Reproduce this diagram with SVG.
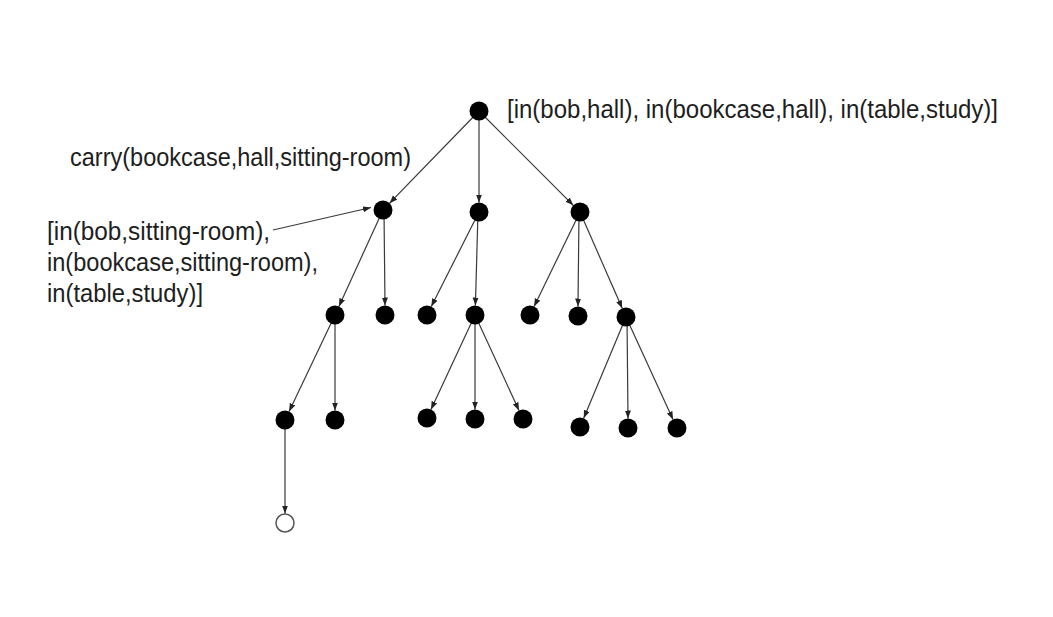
<svg xmlns="http://www.w3.org/2000/svg" width="1053" height="617" viewBox="0 0 1053 617">
<style>
.e{stroke:#3a3a3a;stroke-width:1.2;fill:none;marker-end:url(#ah)}
.n{fill:#000}
.o{fill:#fff;stroke:#555;stroke-width:1.5}
.t{font-family:"Liberation Sans",Arial,sans-serif;font-size:25px;fill:#1e1e1e}
</style>
<defs>
<marker id="ah" markerUnits="userSpaceOnUse" markerWidth="9" markerHeight="7" refX="8" refY="3" orient="auto">
<path d="M0,0 L8,3 L0,6 z" fill="#222"/>
</marker>
</defs>
<rect width="1053" height="617" fill="#fff"/>
<g id="connectors">
<line class="e" x1="479" y1="111" x2="389.6" y2="203.2"/>
<line class="e" x1="479" y1="111" x2="479" y2="202.5"/>
<line class="e" x1="479" y1="111" x2="573.3" y2="205.3"/>
<line class="e" x1="383" y1="210" x2="338.9" y2="306.4"/>
<line class="e" x1="384" y1="210" x2="385" y2="305.5"/>
<line class="e" x1="479" y1="212" x2="431.3" y2="306.5"/>
<line class="e" x1="478" y1="212" x2="475.4" y2="305.5"/>
<line class="e" x1="580" y1="212" x2="534.1" y2="306.5"/>
<line class="e" x1="579" y1="212" x2="578" y2="306.5"/>
<line class="e" x1="580" y1="212" x2="622.2" y2="308.3"/>
<line class="e" x1="335" y1="315" x2="289.1" y2="411.4"/>
<line class="e" x1="335" y1="315" x2="335" y2="410.5"/>
<line class="e" x1="475" y1="315" x2="431" y2="409.4"/>
<line class="e" x1="475" y1="315" x2="475" y2="409.5"/>
<line class="e" x1="475" y1="315" x2="519" y2="410.4"/>
<line class="e" x1="626" y1="317" x2="583.7" y2="418.2"/>
<line class="e" x1="627" y1="317" x2="628" y2="418.5"/>
<line class="e" x1="626" y1="317" x2="673" y2="419.4"/>
<line class="e" x1="285" y1="420" x2="285" y2="513.5"/>
<line class="e" x1="273" y1="230" x2="371" y2="207.5"/>
</g>
<g id="root"><circle class="n" cx="479" cy="111" r="9.5"/></g>
<g id="a"><circle class="n" cx="383" cy="210" r="9.5"/></g>
<g id="b"><circle class="n" cx="479" cy="212" r="9.5"/></g>
<g id="c"><circle class="n" cx="580" cy="212" r="9.5"/></g>
<g id="a1"><circle class="n" cx="335" cy="315" r="9.5"/></g>
<g id="a2"><circle class="n" cx="385" cy="315" r="9.5"/></g>
<g id="b1"><circle class="n" cx="427" cy="315" r="9.5"/></g>
<g id="b2"><circle class="n" cx="475" cy="315" r="9.5"/></g>
<g id="c1"><circle class="n" cx="530" cy="315" r="9.5"/></g>
<g id="c2"><circle class="n" cx="578" cy="316" r="9.5"/></g>
<g id="c3"><circle class="n" cx="626" cy="317" r="9.5"/></g>
<g id="a1a"><circle class="n" cx="285" cy="420" r="9.5"/></g>
<g id="a1b"><circle class="n" cx="335" cy="420" r="9.5"/></g>
<g id="b2a"><circle class="n" cx="427" cy="418" r="9.5"/></g>
<g id="b2b"><circle class="n" cx="475" cy="419" r="9.5"/></g>
<g id="b2c"><circle class="n" cx="523" cy="419" r="9.5"/></g>
<g id="c3a"><circle class="n" cx="580" cy="427" r="9.5"/></g>
<g id="c3b"><circle class="n" cx="628" cy="428" r="9.5"/></g>
<g id="c3c"><circle class="n" cx="677" cy="428" r="9.5"/></g>
<g id="goal"><circle class="o" cx="285" cy="523" r="9"/></g>
<g id="labels">
<text class="t" x="507" y="118" textLength="491" lengthAdjust="spacingAndGlyphs">[in(bob,hall), in(bookcase,hall), in(table,study)]</text>
<text class="t" x="70" y="166" textLength="341" lengthAdjust="spacingAndGlyphs">carry(bookcase,hall,sitting-room)</text>
<text class="t" x="47" y="240" textLength="223" lengthAdjust="spacingAndGlyphs">[in(bob,sitting-room),</text>
<text class="t" x="47" y="271" textLength="271" lengthAdjust="spacingAndGlyphs">in(bookcase,sitting-room),</text>
<text class="t" x="47" y="302" textLength="156" lengthAdjust="spacingAndGlyphs">in(table,study)]</text>
</g>
</svg>
